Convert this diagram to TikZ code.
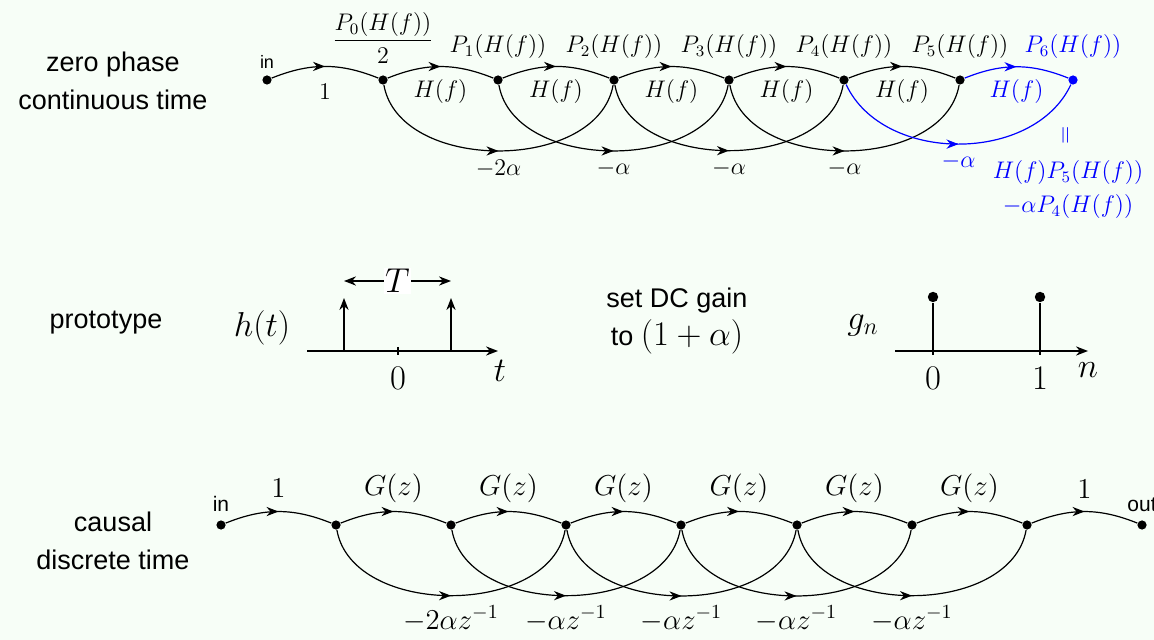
\documentclass[tikz,border=0pt]{standalone}
\usepackage{fontspec}
\setsansfont{Liberation Sans}
\usetikzlibrary{arrows.meta,positioning,decorations.markings}
\definecolor{slidebg}{HTML}{F7FEF7}

\begin{document}
\begin{tikzpicture}[
  x=0.5pt,y=0.5pt,
  every node/.style={inner sep=1pt},
  dot/.style={circle,fill,inner sep=0pt,minimum size=4.6pt},
  flow/.style={line width=0.6pt,postaction={decorate},
    decoration={markings,mark=at position 0.5 with {\arrow{Stealth[length=6pt,width=4.6pt]}}}},
  fwd/.style={flow,bend left=22},
  skip/.style={flow,bend right=80},
  axis/.style={line width=0.65pt,-{Stealth[length=6pt,width=4.6pt]}},
  ctlab/.style={font=\fontsize{11.5}{14}\selectfont},
  dtlab/.style={font=\fontsize{14}{17}\selectfont},
  protolab/.style={font=\fontsize{16.5}{20}\selectfont},
  rowlab/.style={font=\sffamily\fontsize{13.5}{19}\selectfont,align=center},
  portlab/.style={font=\sffamily\fontsize{9}{11}\selectfont}
]
\path[use as bounding box,fill=slidebg] (0,0) rectangle (1154,-640);

% row labels
\node[rowlab] (ct) at (113,-81) {zero phase\\continuous time};
\node[rowlab] (proto) at (106,-323) {prototype};
\node[rowlab] (dt) at (113,-541) {causal\\discrete time};

% zero phase, continuous time
\foreach \n/\x in {ctin/267,a0/383,a1/498,a2/614,a3/729,a4/844,a5/960}
  \node[dot] (\n) at (\x,-80) {};
\node[dot,blue] (a6) at (1073,-80) {};
\node[portlab,above=2pt of ctin] {in};

\draw[fwd] (ctin) to node[ctlab,yshift=-12.5pt] {$1$} (a0);
\foreach \s/\t in {a0/a1,a1/a2,a2/a3,a3/a4,a4/a5}
  \draw[fwd] (\s) to node[ctlab,yshift=-12.5pt] {$H(f)$} (\t);
\draw[fwd,blue] (a5) to node[ctlab,yshift=-12.5pt] {$H(f)$} (a6);

\draw[skip] (a0) to node[ctlab,yshift=-9pt] {$-2\alpha$} (a2);
\foreach \s/\t in {a1/a3,a2/a4,a3/a5}
  \draw[skip] (\s) to node[ctlab,yshift=-9pt] {$-\alpha$} (\t);
\draw[skip,blue,bend right=65] (a4) to node[ctlab,yshift=-8.5pt] {$-\alpha$} (a6);

\node[ctlab] at ([yshift=21pt]a0.center) {$\displaystyle\frac{P_0\bigl(H(f)\bigr)}{2}$};
\foreach \k in {1,...,5}
  \node[ctlab] at ([yshift=16.5pt]a\k.center) {$P_{\k}\bigl(H(f)\bigr)$};
\node[ctlab,blue] at ([yshift=16.5pt]a6.center) {$P_6\bigl(H(f)\bigr)$};

\node[blue,rotate=90,font=\fontsize{12}{13}\selectfont] (eq) at (1067,-135) {$=$};
\node[ctlab,blue,align=center] (p6) at (1068,-190) {$H(f)P_5(H(f))$\\[3pt]$-\alpha P_4(H(f))$};

% prototype h(t)
\node[protolab] (ht) at (262,-328) {$h(t)$};
\coordinate (t0) at (307,-351);
\coordinate (t1) at (498,-351);
\draw[axis] (t0) -- (t1);
\draw[line width=0.65pt] (398,-347) -- (398,-355);
\foreach \x in {344,451}
  \draw[axis] (\x,-351) -- (\x,-298);
\coordinate (ta) at (344,-281);
\coordinate (tb) at (451,-281);
\draw[line width=0.65pt,{Stealth[length=6pt,width=4.6pt]}-{Stealth[length=6pt,width=4.6pt]}]
  (ta) -- node[protolab,fill=white,inner sep=0.5pt] {$T$} (tb);
\node[protolab] (tzero) at (398,-378) {$0$};
\node[protolab] (tvar) at (500,-371) {$t$};

\node[rowlab] (dc) at (677,-321) {set DC gain\\to {\fontsize{16.5}{19}\selectfont$(1+\alpha)$}};

% g_n
\node[protolab] (gn) at (863,-325) {$g_n$};
\coordinate (n0) at (895,-351);
\coordinate (n1) at (1088,-351);
\draw[axis] (n0) -- (n1);
\node[dot,minimum size=5.2pt] (g0) at (933,-297) {};
\node[dot,minimum size=5.2pt] (g1) at (1040,-297) {};
\draw[line width=0.65pt] (933,-355) -- (g0);
\draw[line width=0.65pt] (1040,-355) -- (g1);
\node[protolab] (nzero) at (933,-378) {$0$};
\node[protolab] (none) at (1040,-378) {$1$};
\node[protolab] (nvar) at (1088,-370) {$n$};

% causal, discrete time
\foreach \n/\x in {dtin/221,b0/336,b1/451,b2/566,b3/681,b4/797,b5/912,b6/1027,dtout/1142}
  \node[dot] (\n) at (\x,-525) {};
\node[portlab,font=\sffamily\fontsize{10.5}{12}\selectfont,above=3pt of dtin] {in};
\node[portlab,font=\sffamily\fontsize{10.5}{12}\selectfont,above=3pt of dtout] {out};

\draw[fwd] (dtin) to node[dtlab,yshift=11.5pt] {$1$} (b0);
\foreach \s/\t in {b0/b1,b1/b2,b2/b3,b3/b4,b4/b5,b5/b6}
  \draw[fwd] (\s) to node[dtlab,yshift=11.5pt] {$G(z)$} (\t);
\draw[fwd] (b6) to node[dtlab,yshift=11pt] {$1$} (dtout);

\draw[skip] (b0) to node[dtlab,yshift=-11.5pt] {$-2\alpha z^{-1}$} (b2);
\foreach \s/\t in {b1/b3,b2/b4,b3/b5,b4/b6}
  \draw[skip] (\s) to node[dtlab,yshift=-11.5pt] {$-\alpha z^{-1}$} (\t);
\end{tikzpicture}
\end{document}
